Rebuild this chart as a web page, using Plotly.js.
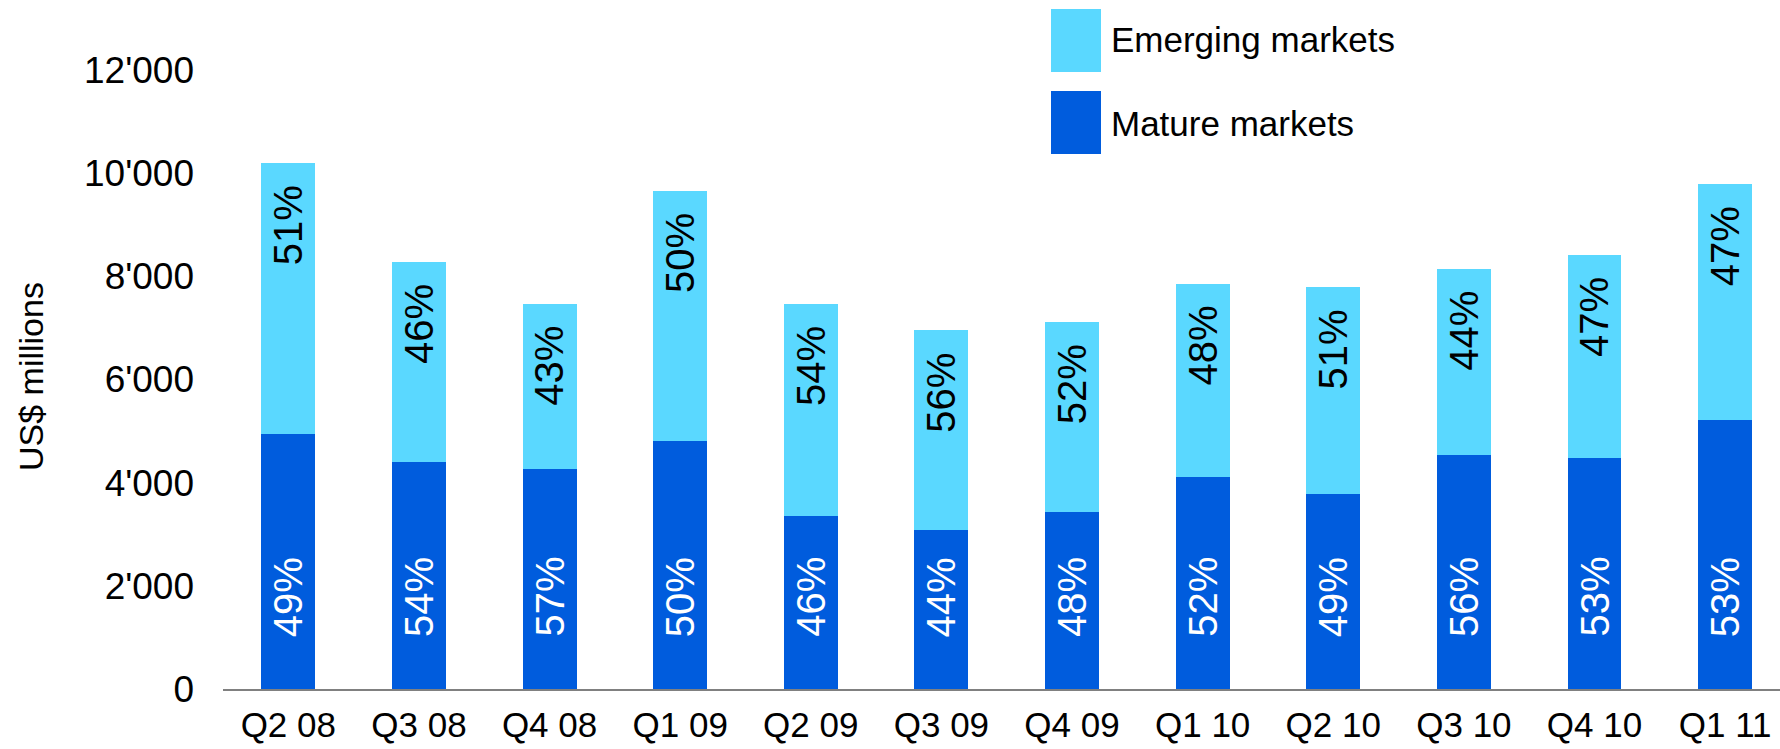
<!DOCTYPE html>
<html>
<head>
<meta charset="utf-8">
<script src="https://cdn.plot.ly/plotly-3.0.1.min.js"></script>
<style>
  html, body { margin: 0; padding: 0; background: #ffffff; }
  #chart { width: 1780px; height: 749px; }
</style>
</head>
<body>
<div id="chart"></div>
<script>
// ---- data ----
var quarters = ["Q2 08", "Q3 08", "Q4 08", "Q1 09", "Q2 09", "Q3 09", "Q4 09", "Q1 10", "Q2 10", "Q3 10", "Q4 10", "Q1 11"];
var matureValues = [4950, 4400, 4270, 4800, 3350, 3080, 3430, 4115, 3785, 4535, 4470, 5215];
var emergingValues = [5250, 3875, 3190, 4860, 4110, 3875, 3680, 3740, 4005, 3610, 3935, 4575];
var maturePct = ["49%", "54%", "57%", "50%", "46%", "44%", "48%", "52%", "49%", "56%", "53%", "53%"];
var emergingPct = ["51%", "46%", "43%", "50%", "54%", "56%", "52%", "48%", "51%", "44%", "47%", "47%"];
var yTickVals = [0, 2000, 4000, 6000, 8000, 10000, 12000];
var yTickLabels = ["0", "2'000", "4'000", "6'000", "8'000", "10'000", "12'000"];
var seriesNames = ["Emerging markets", "Mature markets"];
var yTitle = "US$ millions";

// ---- style ----
var FONT = "Liberation Sans, Arial, Helvetica, sans-serif";
var C_EMERGING = "#5ad8ff";
var C_MATURE = "#005cdd";

var traces = [
  {
    type: "bar", name: seriesNames[1], x: quarters, y: matureValues,
    marker: { color: C_MATURE, line: { width: 0 } }, hoverinfo: "x+y"
  },
  {
    type: "bar", name: seriesNames[0], x: quarters, y: emergingValues,
    marker: { color: C_EMERGING, line: { width: 0 } }, hoverinfo: "x+y"
  }
];

var annotations = [];
for (var i = 0; i < quarters.length; i++) {
  var total = matureValues[i] + emergingValues[i];
  annotations.push({
    x: quarters[i], y: total, xref: "x", yref: "y",
    text: emergingPct[i], showarrow: false, textangle: -90,
    yanchor: "top", xanchor: "center", yshift: -20,
    font: { family: FONT, size: 40, color: "#000000" }
  });
  annotations.push({
    x: quarters[i], y: 0, xref: "x", yref: "y",
    text: maturePct[i], showarrow: false, textangle: -90,
    yanchor: "bottom", xanchor: "center", yshift: 50,
    font: { family: FONT, size: 40, color: "#ffffff" }
  });
}

// legend drawn as layout items (large swatches)
var plotL = 223, plotW = 1780 - 223, plotH = 689;
function px(x) { return (x - plotL) / plotW; }
function py(y) { return 1 - y / plotH; }
var shapes = [
  { type: "rect", xref: "paper", yref: "paper", x0: px(1051), x1: px(1101), y0: py(72), y1: py(9),
    fillcolor: C_EMERGING, line: { width: 0 } },
  { type: "rect", xref: "paper", yref: "paper", x0: px(1051), x1: px(1101), y0: py(154), y1: py(91),
    fillcolor: C_MATURE, line: { width: 0 } }
];
annotations.push({
  xref: "paper", yref: "paper", x: px(1109), y: py(40), xanchor: "left", yanchor: "middle",
  text: seriesNames[0], showarrow: false, font: { family: FONT, size: 35, color: "#000000" }
});
annotations.push({
  xref: "paper", yref: "paper", x: px(1109), y: py(124), xanchor: "left", yanchor: "middle",
  text: seriesNames[1], showarrow: false, font: { family: FONT, size: 35, color: "#000000" }
});
// y-axis title
annotations.push({
  xref: "paper", yref: "paper", x: px(31), y: py(377), xanchor: "center", yanchor: "middle",
  text: yTitle, showarrow: false, textangle: -90, font: { family: FONT, size: 34, color: "#000000" }
});

var layout = {
  width: 1780, height: 749,
  margin: { l: 223, r: 0, t: 0, b: 60, pad: 0 },
  paper_bgcolor: "#ffffff", plot_bgcolor: "#ffffff",
  barmode: "stack", bargap: 0.587,
  showlegend: false,
  font: { family: FONT, color: "#000000" },
  xaxis: {
    type: "category", range: [-0.5, 11.42], showgrid: false, zeroline: false,
    showline: true, linecolor: "#808080", linewidth: 2, ticks: "",
    tickfont: { family: FONT, size: 35, color: "#000000" }, ticklabelstandoff: 4,
    automargin: false, fixedrange: true
  },
  yaxis: {
    range: [0, 13358], tickvals: yTickVals, ticktext: yTickLabels,
    showgrid: false, zeroline: false, showline: false, ticks: "",
    tickfont: { family: FONT, size: 37, color: "#000000" }, ticklabelstandoff: 28,
    automargin: false, fixedrange: true
  },
  shapes: shapes,
  annotations: annotations
};

Plotly.newPlot("chart", traces, layout, { staticPlot: true, displayModeBar: false });
</script>
</body>
</html>
